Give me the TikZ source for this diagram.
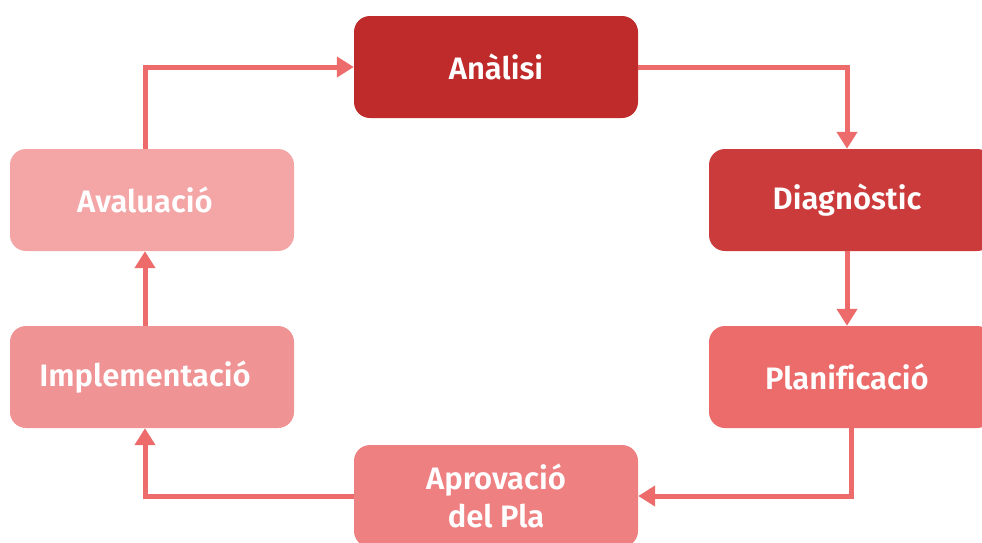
\documentclass[tikz,border=0pt]{standalone}
\usepackage{fontspec}
\setmainfont{Fira Sans SemiBold}[Ligatures=NoCommon]
\usetikzlibrary{arrows.meta}
\definecolor{cA}{HTML}{BF2A2A}
\definecolor{cD}{HTML}{CC3B3B}
\definecolor{cP}{HTML}{EC6B6B}
\definecolor{cAp}{HTML}{EF8081}
\definecolor{cI}{HTML}{F09394}
\definecolor{cE}{HTML}{F4A6A7}
\definecolor{cArr}{HTML}{EE6B6B}
\tikzset{
  stage/.style={rounded corners=16pt, minimum width=284pt, minimum height=102pt,
    text=white, inner sep=0pt, font=\fontsize{31}{38}\selectfont, align=center},
  flow/.style={draw=cArr, line width=5pt, line join=miter,
    -{Triangle[length=17pt,width=20pt]}}
}
\begin{document}
\begin{tikzpicture}[x=1pt,y=-1pt]
\useasboundingbox (0,0) rectangle (982,542);
\node[stage, fill=cA] (ana) at (496,67) {\raisebox{-2pt}{Anàlisi}};
\node[stage, fill=cD] (diag) at (851,200) {\hspace*{-8pt}\raisebox{-2pt}{Diagnòstic}};
\node[stage, fill=cP] (plan) at (851,377) {\hspace*{-8pt}Planificació};
\node[stage, fill=cAp] (apro) at (496,496) {Aprovació\\del Pla};
\node[stage, fill=cI] (impl) at (152,377) {\hspace*{-14pt}Implementació};
\node[stage, fill=cE] (aval) at (152,200) {\hspace*{-14pt}\raisebox{-2pt}{Avaluació}};
\draw[flow] (ana.east) -| ([xshift=-4pt]diag.north);
\draw[flow] ([xshift=-4pt]diag.south) -- ([xshift=-4pt]plan.north);
\draw[flow] (plan.south) |- (apro.east);
\draw[flow] (apro.west) -| ([xshift=-7pt]impl.south);
\draw[flow] ([xshift=-7pt]impl.north) -- ([xshift=-7pt]aval.south);
\draw[flow] ([xshift=-7pt]aval.north) |- (ana.west);
\end{tikzpicture}
\end{document}
